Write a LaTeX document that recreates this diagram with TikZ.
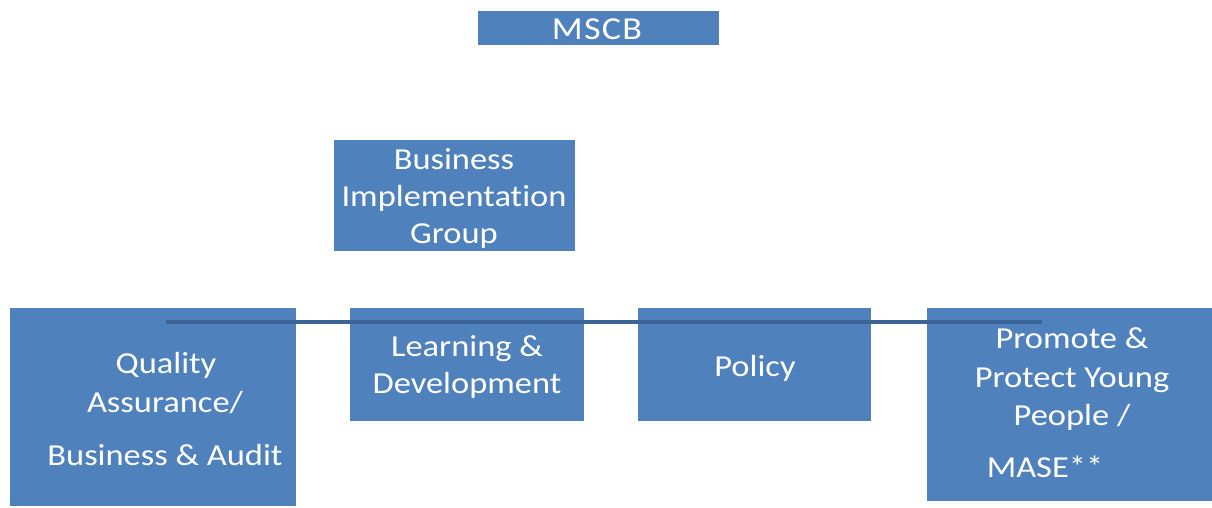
\documentclass[tikz,border=0pt]{standalone}
\usepackage{fontspec}
\setmainfont{Carlito}[FakeStretch=1.13,Ligatures=NoCommon]
\definecolor{boxblue}{HTML}{4F81BD}
\definecolor{linkblue}{HTML}{3A6596}
\begin{document}
\begin{tikzpicture}[x=1pt,y=-1pt,
  box/.style={fill=boxblue,draw=none,inner sep=0pt,outer sep=0pt},
  txt/.style={anchor=base,text=white,inner sep=0pt,font=\fontsize{30.5}{36}\selectfont},
  bar/.style={draw=linkblue,line width=4.7pt}]
\useasboundingbox (0,0) rectangle (1212,507);
% boxes
\node[box,minimum width=241pt,minimum height=34pt] (mscb) at (598.5,28) {};
\node[box,minimum width=241pt,minimum height=111pt] (big) at (454.5,195.5) {};
\node[box,minimum width=286pt,minimum height=198pt] (qa) at (153,407) {};
\node[box,minimum width=234pt,minimum height=113pt] (ld) at (467,364.5) {};
\node[box,minimum width=233pt,minimum height=113pt] (pol) at (754.5,364.5) {};
\node[box,minimum width=285pt,minimum height=193pt] (ppy) at (1069.5,404.5) {};
% bar
\coordinate (barL) at (166,322);
\coordinate (barR) at (1042,322);
\draw[bar] (barL) -- (barR);
% texts
\node[txt,font=\fontsize{32}{36}\addfontfeatures{LetterSpace=4}] (t0) at (597,39) {MSCB};
\node[txt] (t1) at (454,169) {Business};
\node[txt] (t2) at (454,206) {Implementation};
\node[txt] (t3) at (454,243) {Group};
\node[txt] (t4) at (166,373) {Quality};
\node[txt] (t5) at (165,412) {Assurance/};
\node[txt] (t6) at (165,465) {Business \& Audit};
\node[txt] (t7) at (467,356) {Learning \&};
\node[txt] (t8) at (467,393) {Development};
\node[txt] (t9) at (755,376) {Policy};
\node[txt] (t10) at (1072,348) {Promote \&};
\node[txt] (t11) at (1072,387) {Protect Young};
\node[txt] (t12) at (1072,425) {People /};
\node[txt] (t13) at (1045,477) {MASE**};
\end{tikzpicture}
\end{document}
